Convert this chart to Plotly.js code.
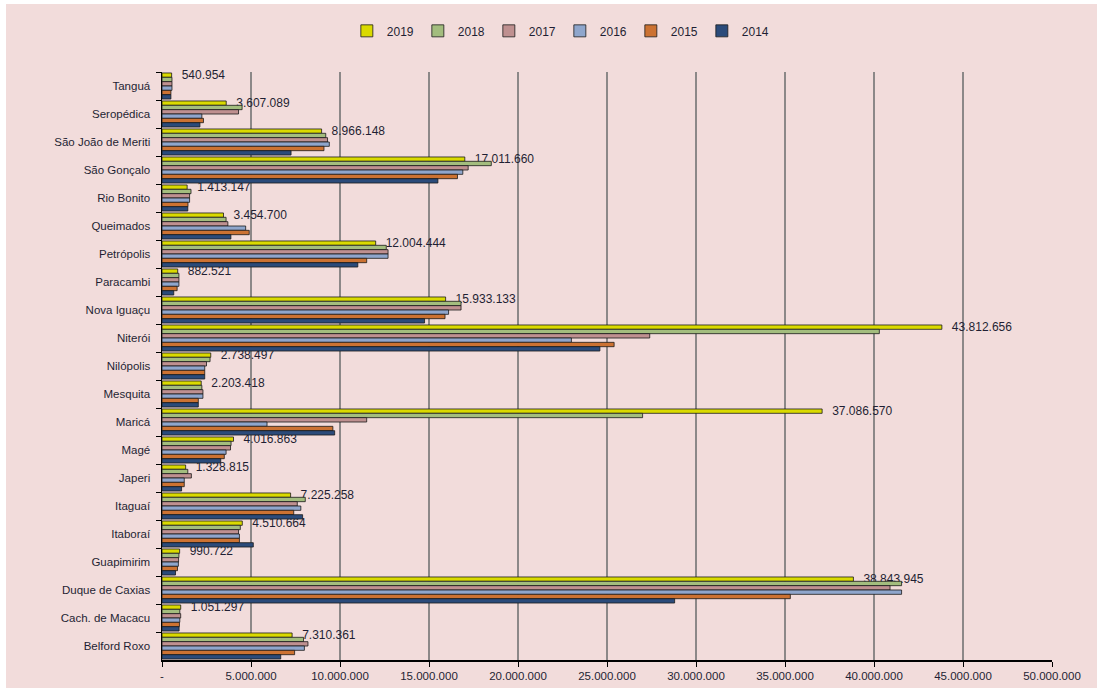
<!DOCTYPE html>
<html>
<head>
<meta charset="utf-8">
<script src="https://cdn.plot.ly/plotly-3.0.1.min.js"></script>
<style>
html,body{margin:0;padding:0;background:#ffffff;}
#chart{position:absolute;left:6px;top:4px;width:1091px;height:684px;}
</style>
</head>
<body>
<div id="chart"></div>
<script>
// Categories, top to bottom as in the reference
const categories = ["Tanguá","Seropédica","São João de Meriti","São Gonçalo","Rio Bonito","Queimados","Petrópolis","Paracambi","Nova Iguaçu","Niterói","Nilópolis","Mesquita","Maricá","Magé","Japeri","Itaguaí","Itaboraí","Guapimirim","Duque de Caxias","Cach. de Macacu","Belford Roxo"];

const years = ["2019","2018","2017","2016","2015","2014"];

const v2019 = [540954, 3607089, 8966148, 17011660, 1413147, 3454700, 12004444, 882521, 15933133, 43812656, 2738497, 2203418, 37086570, 4016863, 1328815, 7225258, 4510664, 990722, 38843945, 1051297, 7310361];
const v2018 = [560000, 4500000, 9200000, 18500000, 1630000, 3600000, 12600000, 950000, 16800000, 40300000, 2700000, 2240000, 27000000, 3880000, 1450000, 8050000, 4400000, 950000, 41550000, 1000000, 7950000];
const v2017 = [560000, 4300000, 9300000, 17200000, 1550000, 3700000, 12700000, 950000, 16800000, 27400000, 2500000, 2300000, 11500000, 3850000, 1650000, 7600000, 4300000, 930000, 40900000, 1050000, 8200000];
const v2016 = [560000, 2240000, 9400000, 16900000, 1550000, 4700000, 12700000, 950000, 16100000, 23000000, 2400000, 2300000, 5900000, 3600000, 1250000, 7800000, 4350000, 920000, 41550000, 1000000, 8000000];
const v2015 = [500000, 2330000, 9100000, 16600000, 1460000, 4900000, 11500000, 850000, 15900000, 25400000, 2400000, 2040000, 9600000, 3500000, 1250000, 7400000, 4350000, 870000, 35300000, 980000, 7450000];
const v2014 = [500000, 2130000, 7250000, 15500000, 1450000, 3870000, 11000000, 660000, 14750000, 24600000, 2400000, 2040000, 9700000, 3300000, 1100000, 7900000, 5130000, 760000, 28800000, 960000, 6670000];

const tickValues = [0, 5000000, 10000000, 15000000, 20000000, 25000000, 30000000, 35000000, 40000000, 45000000, 50000000];
const tickLabels = ["-", "5.000.000", "10.000.000", "15.000.000", "20.000.000", "25.000.000", "30.000.000", "35.000.000", "40.000.000", "45.000.000", "50.000.000"];
const emphasizedGrid = [20000000, 45000000];

const seriesValues = [v2019, v2018, v2017, v2016, v2015, v2014];
const colors = ["#dada00", "#a3bd7e", "#bf9090", "#8fa6cc", "#cc7232", "#2b4b7a"];

const traces = years.map((yr, i) => {
  const t = {
    type: "bar",
    orientation: "h",
    name: yr,
    y: categories,
    x: seriesValues[i],
    marker: {color: colors[i], line: {color: "#1a1a1a", width: 0.8}},
    hoverinfo: "x+y+name"
  };
  if (i === 0) {
    t.texttemplate = "\u00a0\u00a0\u00a0%{x:,d}";
    t.textposition = "outside";
    t.constraintext = "none";
    t.cliponaxis = false;
    t.textfont = {family: "Liberation Sans, Arial, sans-serif", size: 12, color: "#1f1f33"};
  }
  return t;
});

const font = {family: "Liberation Sans, Arial, sans-serif", size: 12, color: "#1f1f33"};

const layout = {
  width: 1091,
  height: 684,
  paper_bgcolor: "#f2dcdb",
  plot_bgcolor: "#f2dcdb",
  separators: ",.",
  font: font,
  barmode: "group",
  bargap: 0.07,
  bargroupgap: 0,
  margin: {l: 156, r: 45, t: 62, b: 28, pad: 0},
  showlegend: true,
  legend: {
    orientation: "h",
    x: 0.447, xanchor: "center",
    y: 1.07, yanchor: "middle",
    bgcolor: "rgba(0,0,0,0)",
    font: {family: "Liberation Sans, Arial, sans-serif", size: 12, color: "#1f1f33"},
    itemwidth: 30,
    entrywidth: 26,
    entrywidthmode: "pixels",
    traceorder: "normal"
  },
  xaxis: {
    range: [0, 50000000],
    tickvals: tickValues,
    ticktext: tickLabels,
    showgrid: true,
    gridcolor: "#8c8888",
    gridwidth: 1.5,
    zeroline: false,
    showline: true,
    linecolor: "#000000",
    linewidth: 1.5,
    ticks: "outside",
    ticklen: 5,
    tickcolor: "#000000",
    tickfont: {family: "Liberation Sans, Arial, sans-serif", size: 11.5, color: "#1f1f33"},
    fixedrange: true
  },
  yaxis: {
    type: "category",
    autorange: "reversed",
    showgrid: false,
    showline: true,
    linecolor: "#000000",
    linewidth: 1.5,
    ticks: "outside",
    tickson: "boundaries",
    ticklen: 5,
    tickcolor: "#000000",
    tickfont: {family: "Liberation Sans, Arial, sans-serif", size: 11.5, color: "#1f1f33"},
    ticklabelstandoff: 8,
    fixedrange: true
  },
  shapes: emphasizedGrid.map(v => ({
    type: "line", xref: "x", yref: "paper",
    x0: v, x1: v, y0: 0, y1: 1,
    line: {color: "#000000", width: 1.5},
    layer: "below"
  }))
};

Plotly.newPlot("chart", traces, layout, {displayModeBar: false, staticPlot: true});
</script>
</body>
</html>
